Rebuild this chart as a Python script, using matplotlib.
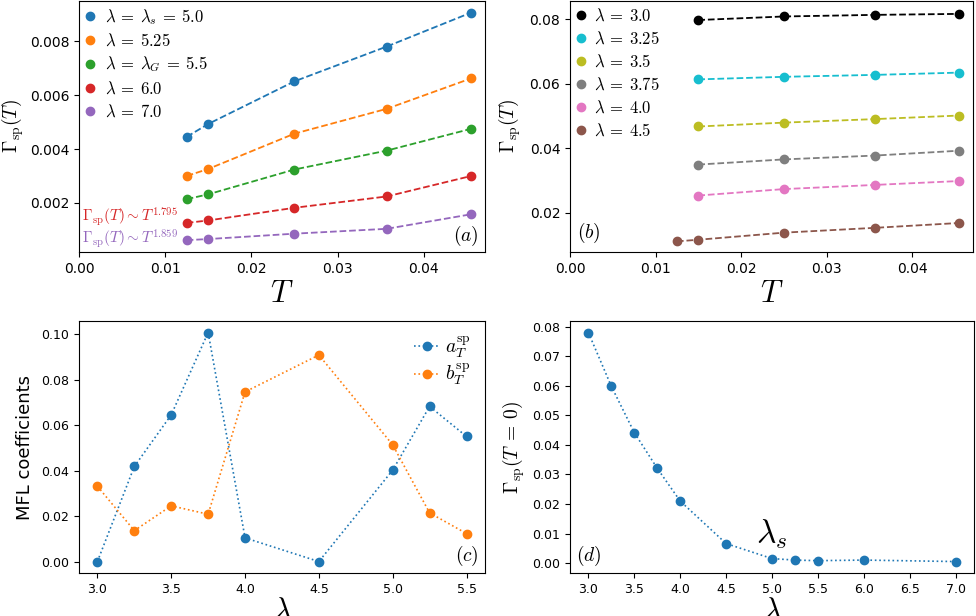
import numpy as np
import matplotlib
matplotlib.use("Agg")
import matplotlib.pyplot as plt

plt.rcParams['mathtext.fontset'] = 'cm'

# panel (a): Gamma_sp(T) for lambda >= 5
T_a = [0.0125, 0.015, 0.025, 0.0357, 0.0455]
g_50 = [0.00445, 0.00493, 0.00651, 0.00780, 0.00906]
g_525 = [0.00300, 0.00326, 0.00457, 0.00549, 0.00662]
g_55 = [0.00214, 0.00232, 0.00324, 0.00394, 0.00475]
g_60 = [0.00126, 0.00135, 0.00182, 0.00224, 0.00300]
g_70 = [0.00062, 0.00066, 0.00086, 0.00104, 0.00158]
labels_a = [r'$\lambda\:=\:\lambda_s\:=\:5.0$', r'$\lambda\:=\:5.25$', r'$\lambda\:=\:\lambda_G\:=\:5.5$',
            r'$\lambda\:=\:6.0$', r'$\lambda\:=\:7.0$']
colors_a = ['tab:blue', 'tab:orange', 'tab:green', 'tab:red', 'tab:purple']

# panel (b): Gamma_sp(T) for lambda < 5
T_b = [0.015, 0.025, 0.0357, 0.0455]
T_b45 = [0.0125, 0.015, 0.025, 0.0357, 0.0455]
g_30 = [0.0798, 0.0809, 0.0814, 0.0817]
g_325 = [0.0614, 0.0622, 0.0628, 0.0635]
g_35 = [0.0468, 0.0480, 0.0491, 0.0502]
g_375 = [0.0350, 0.0366, 0.0378, 0.0393]
g_40 = [0.0254, 0.0274, 0.0287, 0.0299]
g_45 = [0.0112, 0.0117, 0.0139, 0.0154, 0.0169]
labels_b = [r'$\lambda\:=\:3.0$', r'$\lambda\:=\:3.25$', r'$\lambda\:=\:3.5$',
            r'$\lambda\:=\:3.75$', r'$\lambda\:=\:4.0$', r'$\lambda\:=\:4.5$']
colors_b = ['k', 'tab:cyan', 'tab:olive', 'tab:gray', 'tab:pink', 'tab:brown']

# panel (c): MFL coefficients
lam_c = [3.0, 3.25, 3.5, 3.75, 4.0, 4.5, 5.0, 5.25, 5.5]
a_sp = [0.0, 0.0418, 0.0645, 0.1007, 0.0104, 0.0, 0.0402, 0.0682, 0.0550]
b_sp = [0.0331, 0.0136, 0.0245, 0.0208, 0.0746, 0.0908, 0.0513, 0.0214, 0.0123]

# panel (d): Gamma_sp(T=0)
lam_d = [3.0, 3.25, 3.5, 3.75, 4.0, 4.5, 5.0, 5.25, 5.5, 6.0, 7.0]
g0 = [0.0781, 0.0599, 0.0442, 0.0321, 0.0210, 0.0066, 0.0015, 0.0010, 0.0008, 0.0010, 0.0005]

fig = plt.figure(figsize=(9.76, 6.16), dpi=100)
axa = fig.add_axes([0.0809, 0.5909, 0.416, 0.4075])
axb = fig.add_axes([0.584, 0.5909, 0.4129, 0.4075])
axc = fig.add_axes([0.0809, 0.0698, 0.416, 0.409])
axd = fig.add_axes([0.584, 0.0698, 0.414, 0.409])

# (a)
for ys, lab, c in zip([g_50, g_525, g_55, g_60, g_70], labels_a, colors_a):
    axa.plot(T_a, ys, '--', color=c, lw=1.3)
    axa.plot(T_a, ys, 'o', color=c, ms=6, label=lab)
axa.set_xlim(0, 0.0471)
axa.set_ylim(0.00018, 0.00949)
axa.set_xticks([0.0, 0.01, 0.02, 0.03, 0.04])
axa.set_yticks([0.002, 0.004, 0.006, 0.008])
axa.tick_params(labelsize=10)
axa.set_xlabel(r'$T$', fontsize=22, labelpad=2)
axa.set_ylabel(r'$\Gamma_{\rm sp}(T)$', fontsize=14, labelpad=3)
axa.legend(loc='upper left', frameon=False, fontsize=12, handlelength=0.6,
           handletextpad=0.6, borderaxespad=0.15, borderpad=0.2, labelspacing=0.3)
axa.text(0.0004, 0.00148, r'$\Gamma_{\rm sp}(T)\sim T^{1.795}$', color='tab:red',
         fontsize=11, ha='left', va='center')
axa.text(0.0004, 0.00066, r'$\Gamma_{\rm sp}(T)\sim T^{1.859}$', color='tab:purple',
         fontsize=11, ha='left', va='center')
axa.text(0.985, 0.065, r'$(a)$', transform=axa.transAxes, fontsize=14, ha='right', va='center')

# (b)
for Ts, ys, lab, c in zip([T_b, T_b, T_b, T_b, T_b, T_b45],
                          [g_30, g_325, g_35, g_375, g_40, g_45], labels_b, colors_b):
    axb.plot(Ts, ys, '--', color=c, lw=1.3)
    axb.plot(Ts, ys, 'o', color=c, ms=6, label=lab)
axb.set_xlim(0, 0.0471)
axb.set_ylim(0.0079, 0.0857)
axb.set_xticks([0.0, 0.01, 0.02, 0.03, 0.04])
axb.set_yticks([0.02, 0.04, 0.06, 0.08])
axb.tick_params(labelsize=10)
axb.set_xlabel(r'$T$', fontsize=22, labelpad=2)
axb.set_ylabel(r'$\Gamma_{\rm sp}(T)$', fontsize=14, labelpad=5)
axb.legend(loc='upper left', frameon=False, fontsize=12, handlelength=0.6,
           handletextpad=0.5, borderaxespad=0.15, borderpad=0.2, labelspacing=0.3)
axb.text(0.017, 0.076, r'$(b)$', transform=axb.transAxes, fontsize=14, ha='left', va='center')

# (c)
axc.plot(lam_c, a_sp, ':o', color='tab:blue', lw=1.2, ms=6, label=r'$a_T^{\rm sp}$')
axc.plot(lam_c, b_sp, ':o', color='tab:orange', lw=1.2, ms=6, label=r'$b_T^{\rm sp}$')
axc.set_xticks([3.0, 3.5, 4.0, 4.5, 5.0, 5.5])
axc.set_yticks([0.0, 0.02, 0.04, 0.06, 0.08, 0.10])
axc.tick_params(labelsize=9)
axc.set_xlabel(r'$\lambda$', fontsize=22, labelpad=0)
axc.set_ylabel('MFL coefficients', fontsize=13, labelpad=5)
axc.legend(loc='upper right', frameon=False, fontsize=14, handlelength=1.3,
           handletextpad=0.3, labelspacing=0.1, borderaxespad=0.3)
axc.text(0.985, 0.069, r'$(c)$', transform=axc.transAxes, fontsize=14, ha='right', va='center')

# (d)
axd.plot(lam_d, g0, ':o', color='tab:blue', lw=1.2, ms=6)
axd.set_xticks(np.arange(3.0, 7.01, 0.5))
axd.set_yticks(np.arange(0.0, 0.081, 0.01))
axd.tick_params(labelsize=9)
axd.set_xlabel(r'$\lambda$', fontsize=22, labelpad=0)
axd.set_ylabel(r'$\Gamma_{\rm sp}(T\:=\:0)$', fontsize=14, labelpad=4)
axd.text(5.0, 0.0098, r'$\lambda_s$', fontsize=24, ha='center', va='center')
axd.text(0.015, 0.069, r'$(d)$', transform=axd.transAxes, fontsize=14, ha='left', va='center')

fig.savefig('out.png', dpi=100)
